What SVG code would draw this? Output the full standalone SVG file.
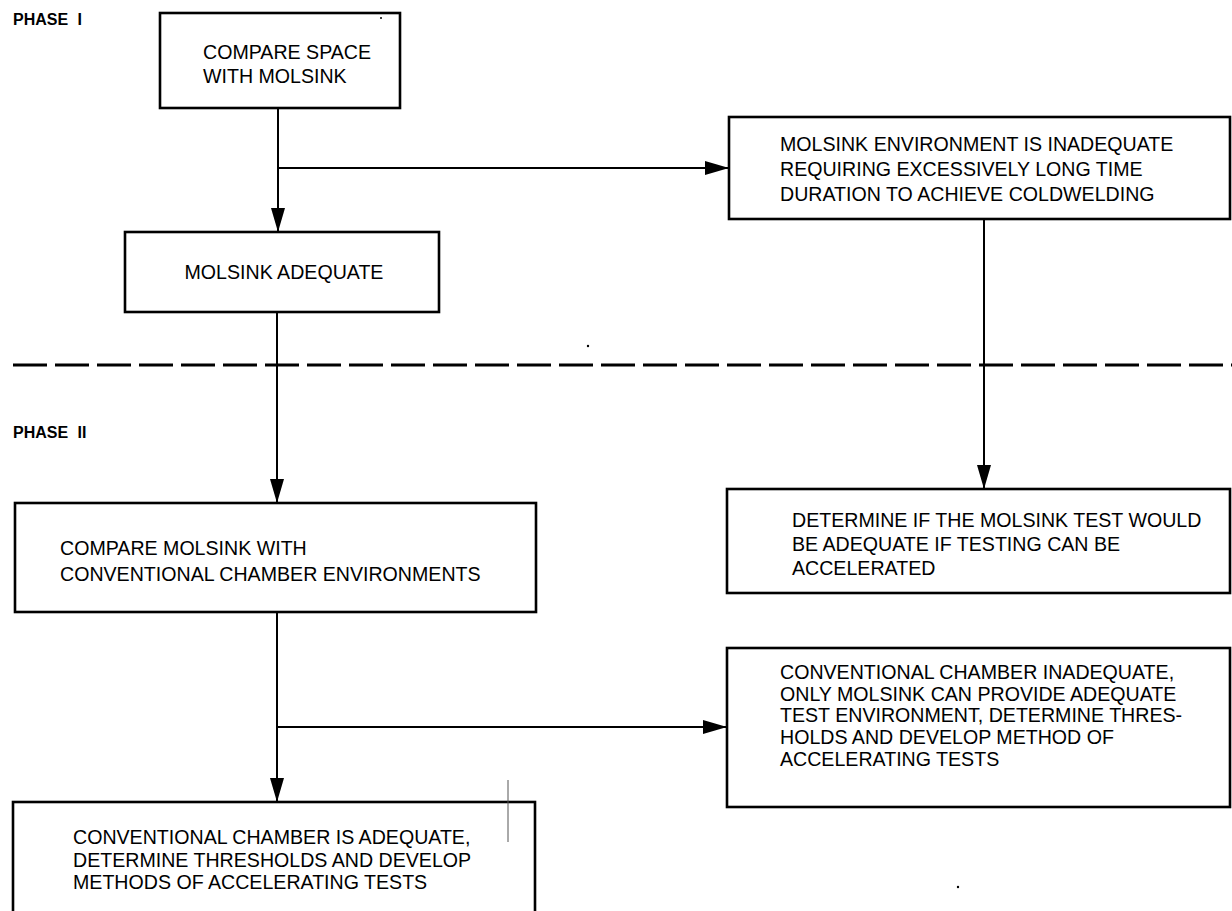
<svg xmlns="http://www.w3.org/2000/svg" width="1232" height="911" viewBox="0 0 1232 911">
<style>
.box{fill:#fff;stroke:#000;stroke-width:2.6}
.t{font-family:"Liberation Sans",Arial,sans-serif;font-size:19.6px;fill:#000}
.ph{font-family:"Liberation Sans",Arial,sans-serif;font-size:16px;font-weight:bold;fill:#000;word-spacing:5px}
.c{fill:none;stroke:#000;stroke-width:2;marker-end:url(#ah)}
</style>
<defs>
<marker id="ah" markerUnits="userSpaceOnUse" markerWidth="26" markerHeight="16" refX="24" refY="7" orient="auto">
<path d="M0,0 L24,7 L0,14 z" fill="#000"/>
</marker>
</defs>
<rect width="1232" height="911" fill="#fff"/>
<text class="ph" x="13" y="25">PHASE I</text>
<text class="ph" x="13" y="438">PHASE II</text>
<line x1="13" y1="365" x2="1232" y2="365" stroke="#000" stroke-width="3" stroke-dasharray="34 8"/>
<g id="connectors">
<line class="c" x1="278" y1="108" x2="278" y2="232"/>
<line class="c" x1="278" y1="168" x2="729" y2="168"/>
<line class="c" x1="277" y1="312" x2="277" y2="503"/>
<line class="c" x1="984" y1="219" x2="984" y2="489"/>
<line class="c" x1="277" y1="612" x2="277" y2="802"/>
<line class="c" x1="277" y1="727" x2="727" y2="727"/>
</g>
<g id="n1">
<rect class="box" x="160" y="13" width="240" height="95"/>
<text class="t" x="203" y="59">COMPARE SPACE</text>
<text class="t" x="203" y="83">WITH MOLSINK</text>
</g>
<g id="n2">
<rect class="box" x="729" y="117" width="501" height="102"/>
<text class="t" x="780" y="151">MOLSINK ENVIRONMENT IS INADEQUATE</text>
<text class="t" x="780" y="176">REQUIRING EXCESSIVELY LONG TIME</text>
<text class="t" x="780" y="201">DURATION TO ACHIEVE COLDWELDING</text>
</g>
<g id="n3">
<rect class="box" x="125" y="232" width="314" height="80"/>
<text class="t" x="284" y="279" text-anchor="middle">MOLSINK ADEQUATE</text>
</g>
<g id="n4">
<rect class="box" x="15" y="503" width="521" height="109"/>
<text class="t" x="60" y="555">COMPARE MOLSINK WITH</text>
<text class="t" x="60" y="581">CONVENTIONAL CHAMBER ENVIRONMENTS</text>
</g>
<g id="n5">
<rect class="box" x="727" y="489" width="503" height="104"/>
<text class="t" x="792" y="527">DETERMINE IF THE MOLSINK TEST WOULD</text>
<text class="t" x="792" y="551">BE ADEQUATE IF TESTING CAN BE</text>
<text class="t" x="792" y="575">ACCELERATED</text>
</g>
<g id="n6">
<rect class="box" x="727" y="648" width="503" height="159"/>
<text class="t" x="780" y="679">CONVENTIONAL CHAMBER INADEQUATE,</text>
<text class="t" x="780" y="701">ONLY MOLSINK CAN PROVIDE ADEQUATE</text>
<text class="t" x="780" y="722">TEST ENVIRONMENT, DETERMINE THRES-</text>
<text class="t" x="780" y="744">HOLDS AND DEVELOP METHOD OF</text>
<text class="t" x="780" y="766">ACCELERATING TESTS</text>
</g>
<g id="n7">
<rect class="box" x="13" y="802" width="522" height="130"/>
<text class="t" x="73" y="844">CONVENTIONAL CHAMBER IS ADEQUATE,</text>
<text class="t" x="73" y="867">DETERMINE THRESHOLDS AND DEVELOP</text>
<text class="t" x="73" y="889">METHODS OF ACCELERATING TESTS</text>
</g>
<line x1="508" y1="780" x2="508" y2="842" stroke="#555" stroke-width="1"/>
<circle cx="588" cy="346" r="1.2" fill="#000"/>
<circle cx="958" cy="887" r="1.2" fill="#000"/>
<circle cx="381" cy="18" r="1" fill="#000"/>
</svg>
